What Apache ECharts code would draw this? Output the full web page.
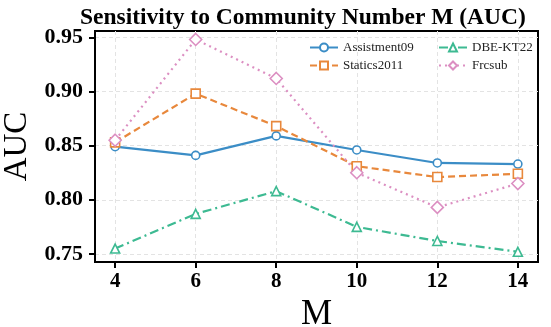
<!DOCTYPE html>
<html>
<head>
<meta charset="utf-8">
<script src="https://cdn.jsdelivr.net/npm/echarts@6/dist/echarts.min.js"></script>
<style>html,body{margin:0;padding:0;background:#fff;}#c{width:551px;height:327px;}</style>
</head>
<body>
<div id="c"></div>
<script>
const mValues = [4, 6, 8, 10, 12, 14];
const assistment09 = [0.849, 0.841, 0.859, 0.846, 0.834, 0.833];
const statics2011 = [0.853, 0.898, 0.868, 0.831, 0.821, 0.824];
const dbeKT22 = [0.755, 0.787, 0.808, 0.775, 0.762, 0.752];
const frcsub = [0.855, 0.948, 0.912, 0.825, 0.793, 0.815];
const xTicks = [4, 6, 8, 10, 12, 14];
const yTicks = [0.75, 0.80, 0.85, 0.90, 0.95];

const serif = '"Liberation Serif", "Times New Roman", serif';
const pair = arr => mValues.map((m, i) => [m, arr[i]]);

function mk(name, data, color, symbol, size, dash) {
  return {
    name, type: 'line', data: pair(data), symbol, symbolSize: size,
    showSymbol: true,
    itemStyle: { color: '#fff', borderColor: color, borderWidth: 1.6 },
    lineStyle: { color: color, width: 2.2, type: dash },
    emphasis: { disabled: true }, z: 3
  };
}

const chart = echarts.init(document.getElementById('c'), null, { renderer: 'canvas' });
chart.setOption({
  animation: false,
  backgroundColor: '#fff',
  title: {
    text: 'Sensitivity to Community Number M (AUC)',
    left: 75, top: 1,
    textStyle: { fontFamily: serif, fontWeight: 'bold', fontSize: 23.5, color: '#000' }
  },
  grid: { left: 95, right: 13, top: 31, bottom: 65, show: true, borderColor: '#000', borderWidth: 2,
    backgroundColor: 'transparent', containLabel: false, outerBoundsMode: 'none' },
  legend: [
    {
      data: ['Assistment09', 'Statics2011'], orient: 'vertical', left: 304, top: 36,
      itemWidth: 28, itemHeight: 10, itemGap: 5,
      textStyle: { fontFamily: serif, fontSize: 13, color: '#222' }
    },
    {
      data: ['DBE-KT22', 'Frcsub'], orient: 'vertical', left: 433, top: 36,
      itemWidth: 28, itemHeight: 10, itemGap: 5,
      textStyle: { fontFamily: serif, fontSize: 13, color: '#222' }
    }
  ],
  xAxis: {
    type: 'value', min: 3.5, max: 14.5,
    name: 'M', nameLocation: 'middle', nameGap: 27,
    nameTextStyle: { fontFamily: serif, fontSize: 35, color: '#000' },
    axisLine: { show: true, lineStyle: { color: '#000', width: 2 } },
    axisTick: { show: true, length: 6, customValues: xTicks, lineStyle: { color: '#000', width: 2 } },
    axisLabel: { customValues: xTicks, margin: 9, fontFamily: serif, fontWeight: 'bold', fontSize: 21, color: '#000' },
    splitLine: { show: true, lineStyle: { color: '#e3e3e3', type: [4, 3], width: 1 } }
  },
  yAxis: {
    type: 'value', min: 0.7426, max: 0.9558,
    name: 'AUC', nameLocation: 'middle', nameGap: 60,
    nameTextStyle: { fontFamily: serif, fontSize: 33, color: '#000' },
    axisLine: { show: true, lineStyle: { color: '#000', width: 2 } },
    axisTick: { show: true, length: 6, customValues: yTicks, lineStyle: { color: '#000', width: 2 } },
    axisLabel: { customValues: yTicks, margin: 12, fontFamily: serif, fontWeight: 'bold', fontSize: 22, color: '#000',
      formatter: v => v.toFixed(2) },
    splitLine: { show: true, lineStyle: { color: '#e3e3e3', type: [4, 3], width: 1 } }
  },
  series: [
    mk('Assistment09', assistment09, '#3b8dc6', 'circle', 8, 'solid'),
    mk('Statics2011', statics2011, '#e8883c', 'rect', 9, [7, 4]),
    mk('DBE-KT22', dbeKT22, '#3dba92', 'triangle', 9, [9, 4, 2, 4]),
    mk('Frcsub', frcsub, '#dc8fc2', 'diamond', 12, [2, 4])
  ]
});
</script>
</body>
</html>
